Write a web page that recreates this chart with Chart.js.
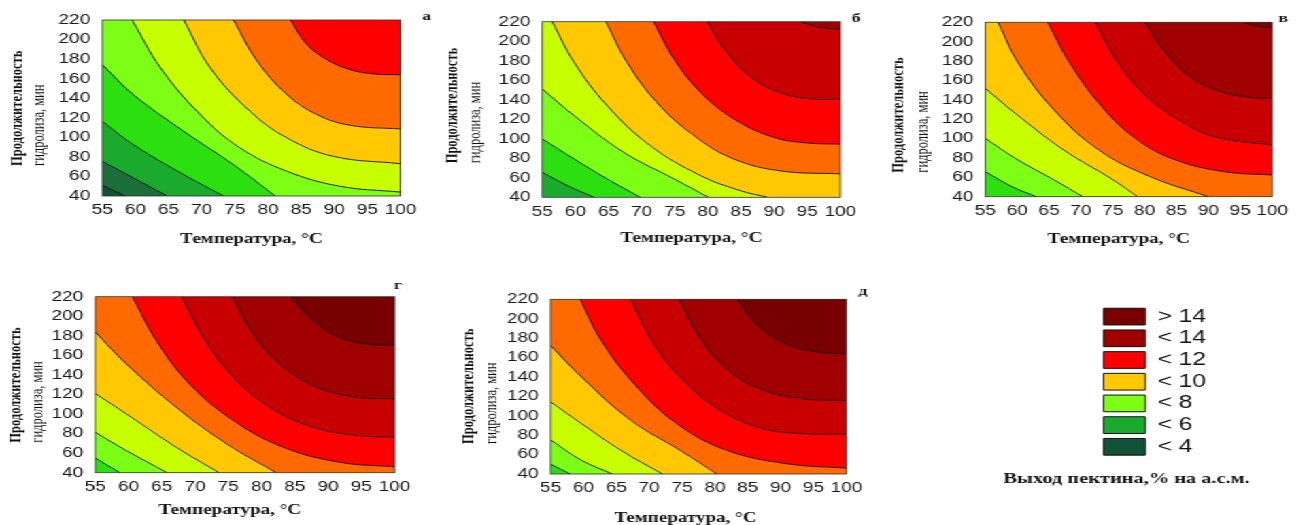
<!DOCTYPE html>
<html>
<head>
<meta charset="utf-8">
<script src="https://cdn.jsdelivr.net/npm/chart.js@4.4.1/dist/chart.umd.min.js"></script>
<style>
  html, body { margin: 0; padding: 0; background: #fff; width: 1296px; height: 525px; overflow: hidden; }
  #stage { position: absolute; left: 0; top: 0; height: 525px; transform-origin: 0 0; }
  #stage canvas { position: absolute; }
</style>
</head>
<body>
<div id="stage"></div>
<script>
// Horizontal widening applied to the whole figure (wide lettering of the original layout)
const STRETCH = 1.36;

// Axes
const temperatureTicks = [55, 60, 65, 70, 75, 80, 85, 90, 95, 100];
const durationTicks = [40, 60, 80, 100, 120, 140, 160, 180, 200, 220];

// Colour of each band: index 0 is "< 4", then one band per unit up to "> 14"
const bandColors = ['#0f5236', '#19703b', '#1aab2c', '#2be00e', '#7cff14', '#c8ff00',
                    '#ffc800', '#ff6a00', '#ff0000', '#c80000', '#a00000', '#780000'];

// Legend
const legendLabels = ['> 14', '< 14', '< 12', '< 10', '< 8', '< 6', '< 4'];
const legendBands = [11, 10, 8, 6, 4, 2, 0];
const legendCaption = 'Выход пектина,% на а.с.м.';

// Iso-lines of pectin yield: [level, [[temperature °C, duration min], ...]]
const isoPanelA = [
  [4,  [[55, 51], [58.5, 40]]],
  [5,  [[55, 75.5], [59.7, 58.4], [64.8, 40]]],
  [6,  [[55, 116.3], [59.7, 92.5], [67.3, 61.8], [73.3, 40]]],
  [7,  [[55, 174.3], [59.7, 143.6], [67.3, 106.1], [74.8, 72], [81.1, 40]]],
  [8,  [[59.5, 220], [63.8, 170.9], [69.8, 123.2], [75.8, 89.1], [82.9, 65.2], [90.9, 49.9], [100, 44]]],
  [9,  [[67.3, 220], [71.3, 170.9], [77.3, 126.6], [82.9, 99.3], [89.9, 80.5], [100, 73]]],
  [10, [[74.8, 220], [78.4, 177.7], [82.9, 143.6], [87.4, 123.2], [92.4, 112.3], [100, 108.5]]],
  [11, [[83.4, 220], [85.9, 194.8], [88.9, 179.4], [92.4, 169.2], [96, 164.8], [100, 164]]]
];
const isoPanelB = [
  [6,  [[55, 65.6], [58.8, 52], [62.8, 40]]],
  [7,  [[55, 99.8], [59.8, 79.3], [64.8, 58.8], [69.8, 40]]],
  [8,  [[55, 151], [59.8, 123.7], [67.3, 86.1], [74.9, 58.8], [80.1, 40]]],
  [9,  [[56.5, 220], [59.8, 178.3], [64.8, 133.9], [71.3, 92.9], [78.9, 62.2], [84.9, 46.8], [89, 40]]],
  [10, [[64.6, 220], [67.8, 178.3], [72.3, 137.3], [77.9, 103.2], [83.9, 79.3], [91, 67], [100, 64]]],
  [11, [[71.8, 220], [74.9, 181.7], [78.9, 147.6], [83.9, 120.3], [89.9, 101.5], [95, 95.7], [100, 94.5]]],
  [12, [[79.9, 220], [82.9, 188.6], [86.9, 161.2], [91.5, 145.9], [96, 140.7], [100, 140.5]]],
  [13, [[94, 220], [97, 214], [100, 212.5]]]
];
const isoPanelV = [
  [7,  [[55, 65.8], [59.2, 50.3], [63, 40]]],
  [8,  [[55, 100.2], [59.7, 79.6], [65.8, 57.2], [70.3, 40]]],
  [9,  [[55, 151.8], [59.7, 126], [67.3, 88.2], [74.9, 58], [78.9, 40]]],
  [10, [[57, 220], [60.2, 177.7], [65.8, 129.5], [72.8, 88.2], [80.9, 60.6], [90, 40]]],
  [11, [[64.8, 220], [68.3, 177.7], [73.3, 132.9], [78.9, 98.5], [84.9, 77.8], [92.5, 65.8], [100, 62.4]]],
  [12, [[72.3, 220], [75.9, 177.7], [80.4, 143.2], [85.4, 119.1], [91, 101.9], [100, 93.3]]],
  [13, [[80.1, 220], [83.4, 188], [87.5, 162.2], [92, 148.4], [96.5, 142.6], [100, 141.5]]],
  [14, [[95.5, 220], [98, 215.5], [100, 214.5]]]
];
const isoPanelG = [
  [7,  [[55, 55], [58.7, 40]]],
  [8,  [[55, 81.3], [59.7, 62.5], [65.8, 40]]],
  [9,  [[55, 121], [59.7, 100], [67.2, 65.9], [73.6, 40]]],
  [10, [[55, 183.8], [59.7, 151.1], [67.2, 106.8], [74.8, 69.3], [82.2, 40]]],
  [11, [[60.6, 220], [64.2, 175], [69.2, 130.7], [75.8, 93.2], [83.3, 65.9], [91.8, 50.6], [100, 46]]],
  [12, [[68, 220], [71.3, 178.4], [75.8, 137.5], [81.3, 106.8], [87.8, 86.4], [94.8, 77.8], [100, 76.5]]],
  [13, [[75.7, 220], [78.8, 181.8], [82.8, 151.1], [87.8, 129], [93.8, 117.7], [100, 115.5]]],
  [14, [[84.5, 220], [87.8, 195.5], [91.8, 178.4], [95.8, 171.6], [100, 170.2]]]
];
const isoPanelD = [
  [7,  [[55, 50], [58, 40]]],
  [8,  [[55, 75], [59.7, 54.1], [64.4, 40]]],
  [9,  [[55, 114.3], [59.7, 91.9], [65.7, 64.4], [72, 40]]],
  [10, [[55, 172.4], [59.7, 140], [67.2, 95.3], [74.7, 64.4], [80.3, 40]]],
  [11, [[59.5, 220], [62.7, 177.7], [67.7, 133.1], [74.2, 91.9], [81.8, 64.4], [90.8, 50.7], [100, 46]]],
  [12, [[67.2, 220], [70.7, 174.3], [75.2, 136.5], [80.8, 105.6], [87.3, 86.7], [93.8, 81.5], [100, 81]]],
  [13, [[74.6, 220], [77.7, 181.2], [81.8, 148.6], [86.8, 127.9], [92.8, 118], [100, 115.5]]],
  [14, [[83.4, 220], [86.8, 191.5], [90.8, 174.3], [95.3, 166], [100, 163.5]]]
];

// Panel placement on the page (page pixels): canvas box and plot rectangle
const panels = [
  { tag: 'а', iso: isoPanelA, box: [0, 0, 440, 262],   plot: [102, 20, 400, 196],
    tagAt: [26, -3],   yMain: 84, ySub: 63,   yStart: 30, xTitle: [0, 239] },
  { tag: 'б', iso: isoPanelB, box: [440, 0, 430, 262], plot: [541.7, 21.7, 840, 197.3],
    tagAt: [15.7, -2.7], yMain: 89, ySub: 66, yStart: 34, xTitle: [0, 238] },
  { tag: 'в', iso: isoPanelV, box: [870, 0, 426, 262], plot: [985, 22.3, 1282.7, 196.7],
    tagAt: [11, -3.3], yMain: 87, ySub: 62,  yStart: 24, xTitle: [-10, 239] },
  { tag: 'г', iso: isoPanelG, box: [0, 262, 440, 263], plot: [95, 296.7, 394, 472.7],
    tagAt: [3.5, -11], yMain: 79, ySub: 57.5, yStart: 30, xTitle: [-15, 510] },
  { tag: 'д', iso: isoPanelD, box: [440, 262, 430, 263], plot: [550, 299.3, 849.3, 474],
    tagAt: [16.5, -7.6], yMain: 82, ySub: 59, yStart: 30, xTitle: [-13, 518] }
];

const stage = document.getElementById('stage');
stage.style.width = (1296 / STRETCH) + 'px';
stage.style.transform = 'scaleX(' + STRETCH + ')';

Chart.defaults.font.family = '"Liberation Sans", Arial, sans-serif';
Chart.defaults.color = '#1a1a1a';

function addCanvas(box) {
  const canvas = document.createElement('canvas');
  const cw = box[2] / STRETCH;
  canvas.width = cw;
  canvas.height = box[3];
  canvas.style.left = (box[0] / STRETCH) + 'px';
  canvas.style.top = box[1] + 'px';
  canvas.style.width = cw + 'px';
  canvas.style.height = box[3] + 'px';
  stage.appendChild(canvas);
  return canvas;
}

// Frame, panel letter and axis captions
const panelDecor = {
  id: 'panelDecor',
  afterDraw(chart, _args, o) {
    if (!o || !o.tag) return;
    const { ctx, chartArea: a } = chart;
    ctx.save();
    ctx.strokeStyle = '#2e2e2e';
    ctx.lineWidth = 0.8;
    ctx.strokeRect(a.left, a.top, a.right - a.left, a.bottom - a.top);

    ctx.fillStyle = '#111';
    ctx.textAlign = 'center';
    ctx.textBaseline = 'middle';
    ctx.font = 'bold 13px "Liberation Serif", serif';
    ctx.fillText(o.tag, a.right + o.tagDx, a.top + o.tagDy);

    ctx.font = 'bold 14px "Liberation Serif", serif';
    ctx.fillText(o.xTitle, (a.left + a.right) / 2 + o.xTitleDx, o.xTitleY);

    // rotated captions: partly undo the widening so they keep a near-natural shape
    const rotated = (text, font, x, y) => {
      ctx.save();
      ctx.translate(x, y);
      ctx.scale(1.28 / STRETCH, 1);
      ctx.rotate(-Math.PI / 2);
      ctx.font = font;
      ctx.textAlign = 'left';
      ctx.textBaseline = 'middle';
      ctx.fillText(text, 0, 0);
      ctx.restore();
    };
    rotated(o.yTitle, 'bold 12.5px "Liberation Serif", serif', a.left - o.yMainDx, a.bottom - o.yStart);
    rotated(o.ySub, '12.5px "Liberation Serif", serif', a.left - o.ySubDx, a.bottom - o.yStart);
    ctx.restore();
  }
};

function bandDatasets(iso) {
  const sets = [];
  const lowest = iso[0][0];
  // band beneath the lowest iso-line fills the whole plot
  sets.push({ data: [{ x: 55, y: 40 }, { x: 100, y: 40 }], fill: 'end',
              backgroundColor: bandColors[lowest - 4], borderWidth: 0, pointRadius: 0, order: 100 });
  iso.forEach(([level, pts]) => {
    const color = bandColors[level - 3];
    const order = 50 - level;
    const last = pts[pts.length - 1];
    // the iso-line itself, with the band above it
    sets.push({ data: pts.map(([x, y]) => ({ x, y })), fill: 'end', backgroundColor: color,
                borderColor: 'rgba(20,20,20,0.9)', borderWidth: 1, pointRadius: 0,
                tension: 0.4, order });
    if (last[1] === 40 && last[0] < 100) {
      // full columns right of where the iso-line meets the bottom edge (slight overlap hides the seam)
      sets.push({ data: [{ x: last[0] - 0.4, y: 40 }, { x: 100, y: 40 }], fill: 'end',
                  backgroundColor: color, borderWidth: 0, pointRadius: 0, order: order + 0.5 });
    }
  });
  return sets;
}

panels.forEach(p => {
  const [bx, by, bw, bh] = p.box;
  const [pl, pt, pr, pb] = p.plot;
  const canvas = addCanvas(p.box);

  const yAxisW = (pl - bx) / STRETCH;
  const padRight = (bx + bw - pr) / STRETCH;
  const padTop = pt - by;
  const xAxisH = by + bh - pb;

  new Chart(canvas, {
    type: 'line',
    data: { datasets: bandDatasets(p.iso) },
    plugins: [panelDecor],
    options: {
      responsive: false,
      animation: false,
      events: [],
      layout: { padding: { left: 0, right: padRight, top: padTop, bottom: 0 }, autoPadding: false },
      scales: {
        x: {
          type: 'linear', min: 55, max: 100,
          afterBuildTicks: s => { s.ticks = temperatureTicks.map(v => ({ value: v })); },
          afterFit: s => { s.height = xAxisH; },
          ticks: { font: { size: 14 }, padding: 6, maxRotation: 0, autoSkip: false, color: '#1a1a1a' },
          grid: { display: false, drawTicks: false },
          border: { display: false }
        },
        y: {
          type: 'linear', min: 40, max: 220,
          afterBuildTicks: s => { s.ticks = durationTicks.map(v => ({ value: v })); },
          afterFit: s => { s.width = yAxisW; },
          ticks: { font: { size: 14 }, padding: 12 / STRETCH, autoSkip: false, color: '#1a1a1a' },
          grid: { display: false, drawTicks: false },
          border: { display: false }
        }
      },
      plugins: {
        legend: { display: false },
        tooltip: { enabled: false },
        panelDecor: {
          tag: p.tag,
          tagDx: p.tagAt[0] / STRETCH, tagDy: p.tagAt[1],
          xTitle: 'Температура, °С', xTitleDx: p.xTitle[0] / STRETCH, xTitleY: p.xTitle[1] - by,
          yTitle: 'Продолжительность', ySub: 'гидролиза, мин',
          yMainDx: p.yMain / STRETCH, ySubDx: p.ySub / STRETCH, yStart: p.yStart
        }
      }
    }
  });
});

// Caption under the colour key
const keyCaption = {
  id: 'keyCaption',
  afterDraw(chart, _args, o) {
    if (!o || !o.text) return;
    const { ctx } = chart;
    ctx.save();
    ctx.fillStyle = '#111';
    ctx.font = 'bold 15px "Liberation Serif", serif';
    ctx.textAlign = 'center';
    ctx.textBaseline = 'middle';
    ctx.fillText(o.text, o.x, o.y);
    ctx.restore();
  }
};

// Colour key
(function () {
  const box = [1000, 290, 294, 200];
  const labelPad = 3.7;
  const canvas = addCanvas(box);

  new Chart(canvas, {
    type: 'bar',
    data: {
      labels: [],
      datasets: legendLabels.map((label, i) => ({
        label, data: [], backgroundColor: bandColors[legendBands[i]],
        borderColor: '#111', borderWidth: 1
      }))
    },
    plugins: [keyCaption],
    options: {
      responsive: false,
      animation: false,
      events: [],
      layout: { padding: { left: (1104 - box[0]) / STRETCH - labelPad, top: 307.6 - box[1] - labelPad, right: 0, bottom: 0 } },
      scales: { x: { display: false }, y: { display: false } },
      plugins: {
        tooltip: { enabled: false },
        legend: {
          position: 'left', align: 'start', maxWidth: 160,
          labels: { boxWidth: 41.7 / STRETCH, boxHeight: 16.7, padding: labelPad, color: '#111',
                    font: { size: 18, family: '"Liberation Sans", Arial, sans-serif' } }
        },
        keyCaption: { text: legendCaption, x: (1127 - box[0]) / STRETCH, y: 479 - box[1] }
      }
    }
  });
})();
</script>
</body>
</html>
